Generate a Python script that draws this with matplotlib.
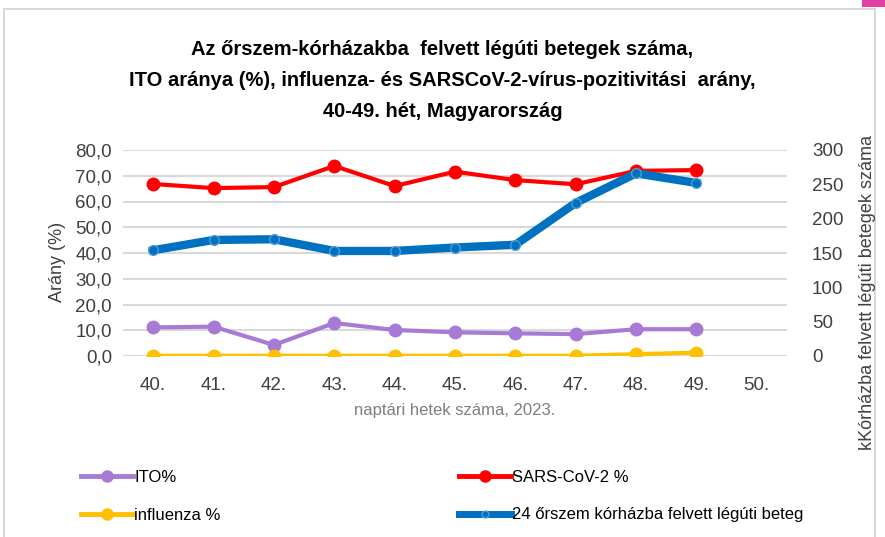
import matplotlib
matplotlib.use('Agg')
import matplotlib.pyplot as plt
from matplotlib.patches import Rectangle
from matplotlib.ticker import FuncFormatter
from matplotlib.lines import Line2D

plt.rcParams['font.family'] = ['Liberation Sans', 'DejaVu Sans']

weeks = ['40.', '41.', '42.', '43.', '44.', '45.', '46.', '47.', '48.', '49.', '50.']
ito = [11.1, 11.4, 4.3, 12.8, 10.1, 9.2, 8.8, 8.5, 10.4, 10.4]
sars = [66.8, 65.2, 65.6, 73.8, 66.0, 71.6, 68.3, 66.7, 71.9, 72.2]
influenza = [0.1, 0.1, 0.1, 0.1, 0.1, 0.1, 0.1, 0.1, 0.7, 1.3]
betegek = [154, 169, 170, 153, 153, 158, 162, 223, 266, 252]

title = ('Az őrszem-kórházakba  felvett légúti betegek száma,\n'
         'ITO aránya (%), influenza- és SARSCoV-2-vírus-pozitivitási  arány,\n'
         '40-49. hét, Magyarország')

c_ito = '#A77AD6'
c_sars = '#FF0000'
c_flu = '#FFC000'
c_blue = '#0070C0'
tick_col = '#404040'

fig = plt.figure(figsize=(8.85, 5.37), dpi=100)
fig.patches.append(Rectangle((4 / 885, -0.05), 871 / 885, 1 - 9 / 537 + 0.05,
                             transform=fig.transFigure, fill=False,
                             edgecolor='#D0D0D0', linewidth=1.2))
fig.patches.append(Rectangle((862 / 885, 1 - 7 / 537), 23 / 885, 7 / 537,
                             transform=fig.transFigure, color='#E040A0', linewidth=0))

ax = fig.add_axes([123 / 885, 1 - 356 / 537, 664 / 885, 206 / 537])
ax2 = ax.twinx()

x = list(range(len(ito)))
ax.plot(x, ito, color=c_ito, lw=3, marker='o', ms=9, zorder=3)
ax.plot(x, sars, color=c_sars, lw=3, marker='o', ms=9, zorder=3)
ax.plot(x, influenza, color=c_flu, lw=3, marker='o', ms=9, zorder=3)
ax2.plot(x, betegek, color=c_blue, lw=6, marker='o', ms=7,
         markeredgecolor='#4F9BD6', markeredgewidth=1, zorder=4)

ax.set_xlim(-0.5, len(weeks) - 0.5)
ax.set_xticks(range(len(weeks)))
ax.set_xticklabels(weeks)
ax.set_ylim(0, 80)
ax.set_yticks(range(0, 81, 10))
ax.yaxis.set_major_formatter(FuncFormatter(lambda v, p: f'{v:.1f}'.replace('.', ',')))
ax2.set_ylim(0, 300)
ax2.set_yticks(range(0, 301, 50))

ax.grid(axis='y', color='#D9D9D9', lw=1.5, zorder=0)
ax.set_axisbelow(True)
for a in (ax, ax2):
    for s in a.spines.values():
        s.set_visible(False)
    a.tick_params(length=0, labelsize=13.5, colors=tick_col)
ax.tick_params(axis='x', pad=15)
ax.tick_params(axis='y', pad=8)
ax2.tick_params(axis='y', pad=18)
ax2.patch.set_visible(False)

fig.text(0.5, 1 - 80 / 537, title, ha='center', va='center', fontsize=14.5,
         fontweight='bold', linespacing=1.8)
fig.text(57 / 885, 1 - 262 / 537, 'Arány (%)', rotation=90, ha='center', va='center',
         fontsize=13, color=tick_col)
fig.text(868 / 885, 1 - 292 / 537, 'kKórházba felvett légúti betegek száma', rotation=90,
         ha='center', va='center', fontsize=13, color=tick_col)
fig.text(455 / 885, 1 - 410 / 537, 'naptári hetek száma, 2023.', ha='center', va='center',
         fontsize=12, color='#7F7F7F')

handles = [
    Line2D([], [], color=c_ito, lw=3.5, marker='o', ms=8),
    Line2D([], [], color=c_flu, lw=3.5, marker='o', ms=8),
    Line2D([], [], color=c_sars, lw=3.5, marker='o', ms=8),
    Line2D([], [], color=c_blue, lw=5, marker='o', ms=5, markeredgecolor='#4F9BD6'),
]
labels = ['ITO%', 'influenza %', 'SARS-CoV-2 %', '24 őrszem kórházba felvett légúti beteg']
fig.legend(handles, labels, ncol=2, loc='upper left', bbox_to_anchor=(66 / 885, 1 - 455 / 537),
           frameon=False, fontsize=12, handlelength=3.1, handletextpad=0.1,
           columnspacing=14.3, labelspacing=1.35)

fig.savefig('out.png', dpi=100)
